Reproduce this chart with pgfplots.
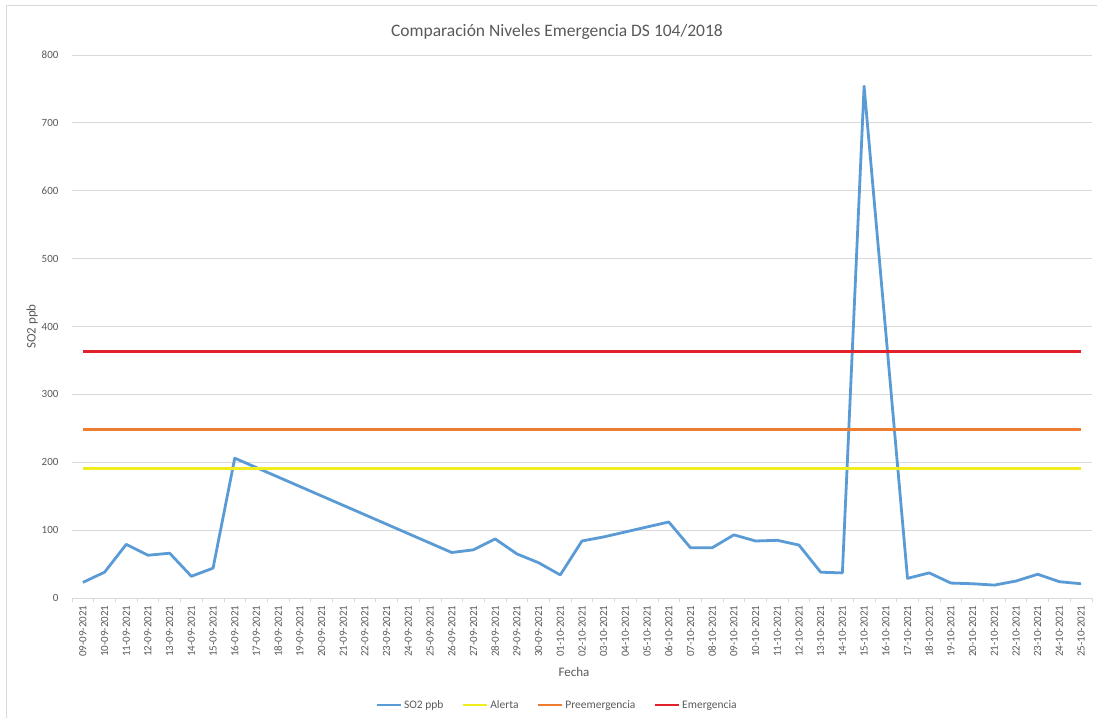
\documentclass[border=0pt]{standalone}
\usepackage{fontspec}
\setmainfont{Carlito}
\usepackage{pgfplots}
\pgfplotsset{compat=1.18}

\definecolor{so2}{HTML}{5B9BD5}
\definecolor{alerta}{HTML}{F0EC1E}
\definecolor{preem}{HTML}{ED7D31}
\definecolor{emerg}{HTML}{E2222B}
\definecolor{txt}{HTML}{595959}
\definecolor{gridc}{HTML}{D9D9D9}

\begin{document}
\begin{tikzpicture}
\useasboundingbox (-72pt,-120pt) rectangle (1025pt,598pt);
\draw[gridc, line width=1pt] (-65pt,-120pt) -- (-65pt,592pt) -- (1025pt,592pt);
\begin{axis}[
  at={(0pt,0pt)}, anchor=south west,
  scale only axis, width=1020pt, height=543pt,
  xmin=-0.5, xmax=46.5, ymin=0, ymax=800,
  ytick={0,100,...,800},
  xtick={0,...,46},
  xticklabels={09-09-2021,10-09-2021,11-09-2021,12-09-2021,13-09-2021,14-09-2021,15-09-2021,16-09-2021,17-09-2021,18-09-2021,19-09-2021,20-09-2021,21-09-2021,22-09-2021,23-09-2021,24-09-2021,25-09-2021,26-09-2021,27-09-2021,28-09-2021,29-09-2021,30-09-2021,01-10-2021,02-10-2021,03-10-2021,04-10-2021,05-10-2021,06-10-2021,07-10-2021,08-10-2021,09-10-2021,10-10-2021,11-10-2021,12-10-2021,13-10-2021,14-10-2021,15-10-2021,16-10-2021,17-10-2021,18-10-2021,19-10-2021,20-10-2021,21-10-2021,22-10-2021,23-10-2021,24-10-2021,25-10-2021},
  minor xtick={-0.5,0.5,...,46.5},
  major tick length=0pt,
  minor tick length=4pt,
  minor x tick style={draw=gridc, line width=0.8pt},
  tick align=outside,
  axis x line*=bottom, axis y line*=left,
  x axis line style={draw=gridc, line width=1pt, -},
  y axis line style={draw=none},
  ymajorgrids, major grid style={draw=gridc, line width=1pt},
  /pgf/number format/assume math mode=true,
  tick label style={font=\fontsize{11}{13}\selectfont, text=txt},
  x tick label style={rotate=90, anchor=east},
  xticklabel shift=4pt,
  yticklabel shift=10pt,
  title={Comparación Niveles Emergencia DS 104/2018},
  title style={font=\fontsize{17.5}{20}\selectfont, text=txt,
    at={(axis description cs:0.4755,1.031)}, anchor=center},
  xlabel={Fecha},
  xlabel style={font=\fontsize{13}{15}\selectfont, text=txt,
    at={(axis description cs:0.4922,-0.136)}, anchor=center},
  ylabel={SO2 ppb},
  ylabel style={font=\fontsize{13}{15}\selectfont, text=txt,
    at={(axis description cs:-0.039,0.5)}, anchor=center},
  legend columns=4,
  legend style={draw=none, fill=none, font=\fontsize{11.5}{13}\selectfont, text=txt,
    at={(axis description cs:0.4755,-0.197)}, anchor=center,
    /tikz/every even column/.append style={column sep=16pt},
    inner sep=0pt},
  legend image code/.code={\draw[#1] (0pt,0pt) -- (24pt,0pt);},
  clip=false,
]
\addplot[so2, line width=2.8pt, line join=round] coordinates {
  (0,23) (1,38) (2,79) (3,63) (4,66) (5,32) (6,44) (7,206)
  (17,67) (18,71) (19,87) (20,65) (21,52) (22,34) (23,84) (24,90)
  (27,112) (28,74) (29,74) (30,93) (31,84) (32,85) (33,78) (34,38)
  (35,37) (36,754) (38,29) (39,37) (40,22) (41,21) (42,19) (43,25)
  (44,35) (45,24) (46,21)};
\addlegendentry{SO2 ppb}
\addplot[alerta, line width=2.8pt] coordinates {(0,191) (46,191)};
\addlegendentry{Alerta}
\addplot[preem, line width=2.8pt] coordinates {(0,248) (46,248)};
\addlegendentry{Preemergencia}
\addplot[emerg, line width=2.8pt] coordinates {(0,363) (46,363)};
\addlegendentry{Emergencia}
\end{axis}
\end{tikzpicture}
\end{document}
